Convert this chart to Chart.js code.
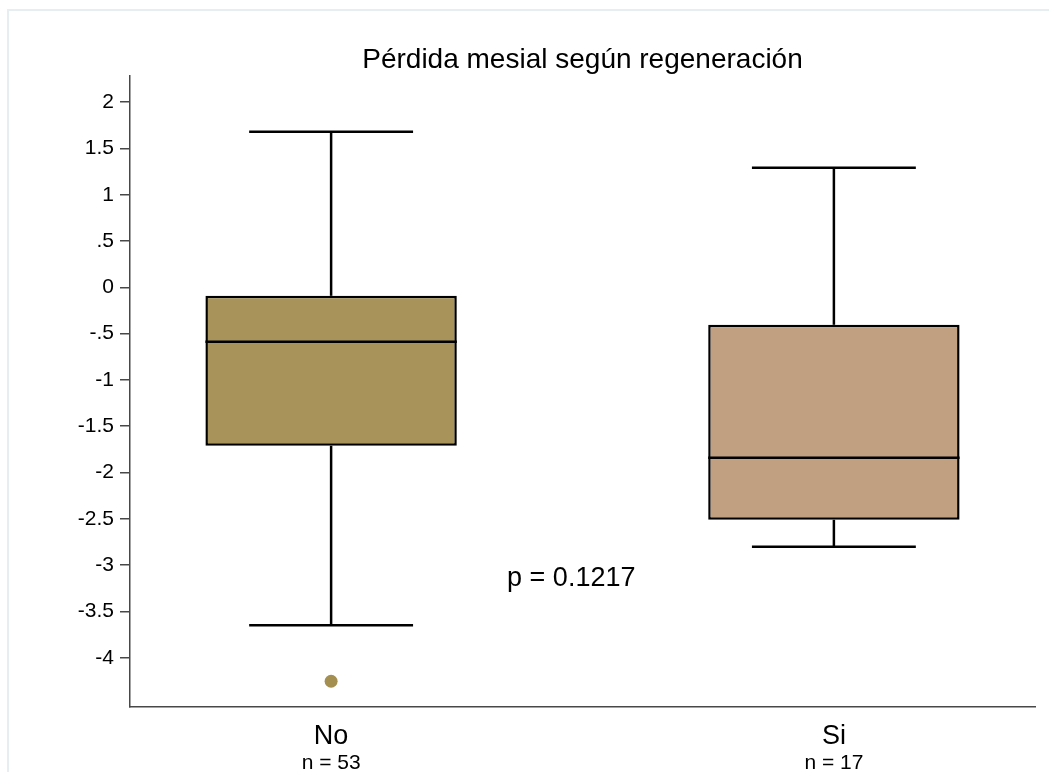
<!DOCTYPE html>
<html>
<head>
<meta charset="utf-8">
<title>Pérdida mesial según regeneración</title>
<script src="https://cdn.jsdelivr.net/npm/chart.js@4.4.1/dist/chart.umd.min.js"></script>
<style>
  html, body { margin: 0; padding: 0; background: #fff; }
  #wrap { position: relative; width: 1049px; height: 772px; overflow: hidden; }
  #frame { position: absolute; left: 7px; top: 9px; width: 1100px; height: 820px;
           border: 2px solid #e6eef0; box-sizing: border-box; }
  canvas { position: absolute; left: 0; top: 0; }
</style>
</head>
<body>
<div id="wrap">
  <div id="frame"></div>
  <canvas id="chart" width="1049" height="772"></canvas>
</div>
<script>
// Groups and their summary statistics
const groups = ['No', 'Si'];
const groupN = ['n = 53', 'n = 17'];
const groupPos = [1, 2];
const whiskerLow = [-3.649, -2.801];
const q1 = [-1.711, -2.511];
const median = [-0.589, -1.841];
const q3 = [-0.092, -0.405];
const whiskerHigh = [1.679, 1.290];
const outliers = [[-4.254], []];

// Axis ticks
const yTicks = [2, 1.5, 1, 0.5, 0, -0.5, -1, -1.5, -2, -2.5, -3, -3.5, -4];
const yTickLabels = ['2', '1.5', '1', '.5', '0', '-.5', '-1', '-1.5', '-2', '-2.5', '-3', '-3.5', '-4'];

const titleText = 'Pérdida mesial según regeneración';
const pValueText = 'p = 0.1217';

const boxColors = ['#a8945a', '#c19f81'];
const outlierColor = '#a58f50';
const FONT = "'Liberation Sans', Arial, Helvetica, sans-serif";
const AXIS_COLOR = '#484848';
const BOX_HALF = 0.25;   // half box width in x units (matches barPercentage 0.5)
const CAP_HALF = 0.163;  // half whisker-cap width in x units

Chart.defaults.font.family = FONT;
Chart.defaults.color = '#000';

// Whiskers, caps and median lines drawn through the chart scales
const boxPlotLines = {
  id: 'boxPlotLines',
  afterDatasetsDraw(chart) {
    const { ctx, scales: { x, y } } = chart;
    ctx.save();
    ctx.strokeStyle = '#000';
    ctx.lineWidth = 2.5;
    ctx.lineCap = 'butt';
    const seg = (x1, y1, x2, y2) => {
      ctx.beginPath(); ctx.moveTo(x1, y1); ctx.lineTo(x2, y2); ctx.stroke();
    };
    groupPos.forEach((p, i) => {
      const cx = x.getPixelForValue(p);
      const capL = x.getPixelForValue(p - CAP_HALF);
      const capR = x.getPixelForValue(p + CAP_HALF);
      const boxL = x.getPixelForValue(p - BOX_HALF);
      const boxR = x.getPixelForValue(p + BOX_HALF);
      // upper whisker
      seg(cx, y.getPixelForValue(q3[i]), cx, y.getPixelForValue(whiskerHigh[i]));
      seg(capL, y.getPixelForValue(whiskerHigh[i]), capR, y.getPixelForValue(whiskerHigh[i]));
      // lower whisker
      seg(cx, y.getPixelForValue(q1[i]), cx, y.getPixelForValue(whiskerLow[i]));
      seg(capL, y.getPixelForValue(whiskerLow[i]), capR, y.getPixelForValue(whiskerLow[i]));
      // median
      seg(boxL, y.getPixelForValue(median[i]), boxR, y.getPixelForValue(median[i]));
    });
    ctx.restore();
  }
};

// Group sizes under the category labels and the p-value note
const extraText = {
  id: 'extraText',
  afterDraw(chart) {
    const { ctx, scales: { x, y } } = chart;
    ctx.save();
    ctx.fillStyle = '#000';
    ctx.textBaseline = 'alphabetic';
    ctx.textAlign = 'center';
    ctx.font = `21px ${FONT}`;
    groupPos.forEach((p, i) => {
      ctx.fillText(groupN[i], x.getPixelForValue(p), x.bottom - 3);
    });
    ctx.textAlign = 'left';
    ctx.font = `27px ${FONT}`;
    ctx.fillText(pValueText, x.getPixelForValue(1.35), y.getPixelForValue(-3.225));
    ctx.restore();
  }
};

const outlierPoints = [];
outliers.forEach((vals, i) => vals.forEach(v => outlierPoints.push({ x: groupPos[i], y: v })));

new Chart(document.getElementById('chart'), {
  type: 'bar',
  data: {
    datasets: [
      {
        type: 'bar',
        data: groupPos.map((p, i) => ({ x: p, y: [q1[i], q3[i]] })),
        backgroundColor: boxColors,
        borderColor: '#000',
        borderWidth: 2.5,
        borderSkipped: false,
        barPercentage: 0.5,
        categoryPercentage: 1.0
      },
      {
        type: 'scatter',
        data: outlierPoints,
        backgroundColor: outlierColor,
        borderWidth: 0,
        pointRadius: 6.5
      }
    ]
  },
  options: {
    responsive: false,
    animation: false,
    devicePixelRatio: 1,
    layout: { padding: { left: 0, right: 14, top: 0, bottom: 0 } },
    plugins: {
      legend: { display: false },
      tooltip: { enabled: false },
      title: {
        display: true,
        text: titleText,
        fullSize: false,
        color: '#000',
        font: { size: 28, weight: 'normal', family: FONT, lineHeight: 1.1 },
        padding: { top: 45, bottom: 0 }
      }
    },
    scales: {
      x: {
        type: 'linear',
        min: 0.6,
        max: 2.4,
        offset: false,
        grid: { display: true, drawOnChartArea: false, drawTicks: false },
        border: { display: true, color: AXIS_COLOR, width: 1.5 },
        afterBuildTicks: s => { s.ticks = groupPos.map(v => ({ value: v })); },
        afterFit: s => { s.height = 65; },
        ticks: {
          color: '#000',
          padding: 13,
          font: { size: 27, family: FONT },
          maxRotation: 0,
          autoSkip: false,
          callback: v => groups[groupPos.indexOf(v)]
        }
      },
      y: {
        type: 'linear',
        min: -4.532,
        max: 2.284,
        grid: { drawOnChartArea: false, drawTicks: true, tickLength: 10, color: AXIS_COLOR, lineWidth: 1.5 },
        border: { display: true, color: AXIS_COLOR, width: 1.5 },
        afterBuildTicks: s => { s.ticks = yTicks.map(v => ({ value: v })); },
        afterFit: s => { s.width = 130; },
        ticks: {
          color: '#000',
          padding: 6,
          autoSkip: false,
          font: { size: 21, family: FONT },
          callback: v => yTickLabels[yTicks.indexOf(v)]
        }
      }
    }
  },
  plugins: [boxPlotLines, extraText]
});
</script>
</body>
</html>
